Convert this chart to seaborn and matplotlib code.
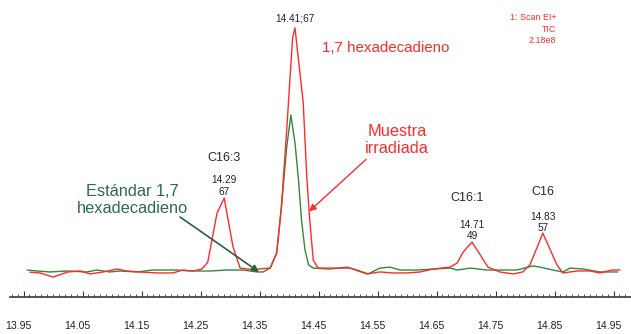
import numpy as np
import pandas as pd
import matplotlib
matplotlib.use("Agg")
import matplotlib.pyplot as plt
from matplotlib.transforms import ScaledTranslation
from matplotlib.ticker import MultipleLocator, FixedLocator
import seaborn as sns

# Retention time (min) and relative TIC intensity (%) of the irradiated sample
muestra_t = [13.961, 13.978, 14.000, 14.025, 14.046, 14.063, 14.085, 14.108, 14.125,
             14.147, 14.176, 14.203, 14.220, 14.237, 14.252, 14.262, 14.278, 14.290,
             14.305, 14.317, 14.329, 14.347, 14.368, 14.379, 14.387, 14.396, 14.402,
             14.406, 14.410, 14.424, 14.430, 14.435, 14.441, 14.449, 14.474, 14.503,
             14.532, 14.554, 14.576, 14.600, 14.622, 14.644, 14.673, 14.685, 14.695,
             14.710, 14.724, 14.737, 14.757, 14.780, 14.796, 14.808, 14.820, 14.830,
             14.839, 14.854, 14.864, 14.888, 14.910, 14.927, 14.947, 14.961]
muestra_i = [-0.5, -0.8, -2.5, -0.4, 0.0, -1.2, -0.4, 0.8, 0.0,
             -0.4, -0.8, -0.8, 0.4, 0.0, 0.8, 3.5, 23.9, 30.0,
             9.9, 1.2, 0.8, 0.8, 1.2, 7.4, 26.3, 58.0, 81.0,
             96.0, 100.0, 69.1, 38.7, 21.0, 4.5, 1.2, 1.2, 1.2,
             -1.2, -0.4, -0.8, -0.8, -0.4, 0.8, 1.6, 3.3, 7.8,
             11.9, 6.6, 1.6, -0.4, -1.2, -0.4, 2.5, 9.5, 15.6,
             10.7, 2.5, -0.8, 0.0, 0.0, -0.8, 0.4, 0.4]

# Standard 1,7-hexadecadiene
estandar_t = [13.956, 13.973, 13.995, 14.024, 14.057, 14.074, 14.096, 14.113, 14.142,
              14.169, 14.210, 14.232, 14.266, 14.295, 14.322, 14.346, 14.356, 14.368,
              14.379, 14.387, 14.396, 14.403, 14.410, 14.416, 14.421, 14.427, 14.433,
              14.441, 14.469, 14.498, 14.515, 14.534, 14.554, 14.571, 14.588, 14.617,
              14.644, 14.673, 14.685, 14.707, 14.735, 14.757, 14.786, 14.813, 14.825,
              14.847, 14.864, 14.876, 14.898, 14.927, 14.957]
estandar_i = [0.4, 0.0, -0.4, 0.0, -0.4, 0.4, -0.4, 0.0, -0.4,
              0.4, 0.4, 0.0, 0.0, 0.4, 0.4, -0.4, -0.4, 1.2,
              7.4, 26.3, 51.0, 64.2, 52.7, 37.4, 21.0, 8.6, 2.5,
              1.2, 0.8, 1.6, 0.4, -1.2, 1.2, 1.6, 0.4, 0.4,
              0.8, 1.2, 0.4, 1.2, 0.4, 0.4, 0.4, 2.1, 1.6,
              0.4, -0.4, 1.2, 0.8, -0.4, -0.4]

# Labelled peaks of the sample trace
peak_names = ["C16:3", "", "C16:1", "C16"]
peak_labels = ["14.29\n67", "14.41;67", "14.71\n49", "14.83\n57"]
peak_t = [14.29, 14.41, 14.71, 14.83]

tick_values = [13.95, 14.05, 14.15, 14.25, 14.35, 14.45, 14.55, 14.65, 14.75, 14.85, 14.95]

sns.set_style("white")
plt.rcParams["font.family"] = ["Liberation Sans", "DejaVu Sans"]

RED = "#ff2b2b"
GREEN = "#2f8a3c"
DARK_GREEN = "#2c5f3c"
TEXT_GREEN = "#2e6a52"
LABEL = "#1f2533"

fig = plt.figure(figsize=(6.31, 3.34), dpi=100)
ax = fig.add_axes([10 / 631, 37 / 334, 621 / 631, 297 / 334])

df_m = pd.DataFrame({"t": muestra_t, "i": muestra_i})
df_e = pd.DataFrame({"t": estandar_t, "i": estandar_i})
sns.lineplot(data=df_e, x="t", y="i", estimator=None, sort=False, color=GREEN,
             lw=1.0, ax=ax, zorder=2)
sns.lineplot(data=df_m, x="t", y="i", estimator=None, sort=False, color=RED,
             lw=1.0, ax=ax, zorder=3)

ax.set_xlim(13.927, 14.9795)
ax.set_ylim(-10.7, 111.5)
ax.set_xlabel("")
ax.set_ylabel("")
ax.set_yticks([])
for s in ["left", "right", "top"]:
    ax.spines[s].set_visible(False)
ax.spines["bottom"].set_color("#3a3a3a")
ax.spines["bottom"].set_linewidth(1.2)

ax.xaxis.set_major_locator(FixedLocator(tick_values))
ax.xaxis.set_minor_locator(MultipleLocator(0.01))
ax.set_xticklabels([f"{v:.2f}" for v in tick_values])
ax.tick_params(axis="x", which="both", bottom=True)
ax.tick_params(axis="x", which="major", direction="in", length=4, width=0.8,
               color="#3a3a3a", labelsize=7.6, labelcolor="#222222", pad=17)
ax.tick_params(axis="x", which="minor", direction="in", length=2.5, width=0.6,
               color="#3a3a3a")
shift = ScaledTranslation(-5.6 / 100, 0, fig.dpi_scale_trans)
for lab in ax.get_xticklabels():
    lab.set_transform(lab.get_transform() + shift)

# Peak annotations
label_off = [12, 9, 11.5, 10.7]
name_off = [40, 0, 44, 41]
name_dx = [0, 0, -5, 0]
for name, lab, t, lo, no, dx in zip(peak_names, peak_labels, peak_t, label_off, name_off, name_dx):
    y = np.interp(t, muestra_t, muestra_i)
    ax.annotate(lab, xy=(t, y), xytext=(0, lo * 0.72), textcoords="offset points",
                ha="center", va="center", fontsize=7.3, color=LABEL, linespacing=1.2)
    if name:
        ax.annotate(name, xy=(t, y), xytext=(dx * 0.72, no * 0.72), textcoords="offset points",
                    ha="center", va="center", fontsize=9, color="#2a2a2a")

# Series labels
ax.text(382 / 631, 1 - 48 / 297, "1,7 hexadecadieno", transform=ax.transAxes,
        ha="center", va="center", fontsize=10.9, color=RED)
ax.text(393 / 631, 1 - 140 / 297, "Muestra\nirradiada", transform=ax.transAxes,
        ha="center", va="center", fontsize=11.8, color=RED, linespacing=1.1)
ax.text(124 / 631, 1 - 200 / 297, "Estándar 1,7\nhexadecadieno", transform=ax.transAxes,
        ha="center", va="center", fontsize=11.8, color=TEXT_GREEN, linespacing=1.2)
ax.text(555 / 631, 1 - 29 / 297, "1: Scan EI+\nTIC\n2.18e8", transform=ax.transAxes,
        ha="right", va="center", fontsize=6.4, color=RED, linespacing=1.4)

# Arrows pointing at each trace
t_red = 14.434
ax.annotate("", xy=(t_red, np.interp(t_red, muestra_t, muestra_i)),
            xytext=(57 * 0.72, 52 * 0.72), textcoords="offset points",
            arrowprops=dict(arrowstyle="-|>", color=RED, lw=1.0,
                            mutation_scale=10, shrinkA=0, shrinkB=0))
t_grn = 14.349
ax.annotate("", xy=(t_grn, np.interp(t_grn, estandar_t, estandar_i)),
            xytext=(-79 * 0.72, 55 * 0.72), textcoords="offset points",
            arrowprops=dict(arrowstyle="-|>", color=DARK_GREEN, lw=1.2,
                            mutation_scale=10, shrinkA=0, shrinkB=0))

fig.savefig("out.png", dpi=100)
